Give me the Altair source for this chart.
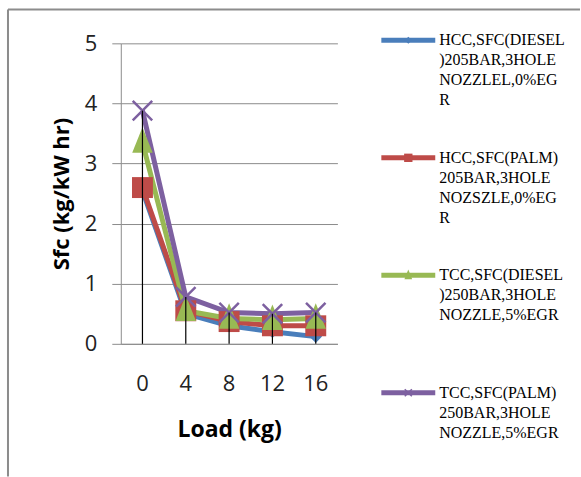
import altair as alt
import pandas as pd

# ---------------- data ----------------
loads = [0, 4, 8, 12, 16]
series = [
    "HCC,SFC(DIESEL)205BAR,3HOLE NOZZLEL,0%EGR",
    "HCC,SFC(PALM)205BAR,3HOLE NOZSZLE,0%EGR",
    "TCC,SFC(DIESEL)250BAR,3HOLE NOZZLE,5%EGR",
    "TCC,SFC(PALM)250BAR,3HOLE NOZZLE,5%EGR",
]
legend_labels = [
    "HCC,SFC(DIESEL\n)205BAR,3HOLE\nNOZZLEL,0%EG\nR",
    "HCC,SFC(PALM)\n205BAR,3HOLE\nNOZSZLE,0%EG\nR",
    "TCC,SFC(DIESEL\n)250BAR,3HOLE\nNOZZLE,5%EGR",
    "TCC,SFC(PALM)\n250BAR,3HOLE\nNOZZLE,5%EGR",
]
hcc_diesel = [2.55, 0.50, 0.30, 0.20, 0.12]
hcc_palm = [2.60, 0.55, 0.37, 0.30, 0.30]
tcc_diesel = [3.35, 0.55, 0.42, 0.40, 0.42]
tcc_palm = [3.88, 0.78, 0.52, 0.50, 0.52]
values = [hcc_diesel, hcc_palm, tcc_diesel, tcc_palm]

colors = ["#4A7EBB", "#BE4B48", "#98B954", "#7D60A0"]

rows = []
for s, vals in zip(series, values):
    for l, v in zip(loads, vals):
        rows.append({"series": s, "load": l, "sfc": v})
df = pd.DataFrame(rows)
leg_df = pd.DataFrame({"series": series, "label": legend_labels})

# ---------------- styles ----------------
FONT = "Open Sans"
GRAY = "#8c8c8c"

x_enc = alt.X(
    "load:O", sort=loads,
    axis=alt.Axis(
        title="Load (kg)", labelAngle=0, ticks=False, tickSize=0, grid=False,
        domainColor=GRAY, labelFont=FONT, labelFontSize=22, labelColor="#222",
        labelPadding=30, titleFont=FONT, titleFontSize=23, titleFontWeight="bold",
        titleColor="black", titlePadding=24,
    ),
)
y_axis = alt.Axis(
    title="Sfc (kg/kW hr)", values=[0, 1, 2, 3, 4, 5], grid=True, gridColor=GRAY,
    gridWidth=1, domainColor=GRAY, tickColor=GRAY, tickSize=9, labelFont=FONT,
    labelFontSize=22, labelColor="#222", labelPadding=15, titleFont=FONT,
    titleFontSize=22, titleFontWeight="bold", titleColor="black", titlePadding=11,
)
y_scale = alt.Scale(domain=[0, 5], nice=False)
color_scale = alt.Scale(domain=series, range=colors)

base = alt.Chart(df)

lines = base.mark_line(strokeWidth=5).encode(
    x=x_enc,
    y=alt.Y("sfc:Q", scale=y_scale, axis=y_axis),
    color=alt.Color("series:N", scale=color_scale, legend=None),
)

marker_specs = [
    ("diamond", 160, True, 1),
    ("square", 440, True, 1),
    ("M0,-1.5L1,1L-1,1Z", 420, True, 1),
    ("M-1,-1L1,1M-1,1L1,-1", 380, False, 2.5),
]
point_layers = []
for s, c, (shp, sz, fil, sw) in zip(series, colors, marker_specs):
    point_layers.append(
        base.transform_filter(alt.datum.series == s)
        .mark_point(shape=shp, size=sz, filled=fil, color=c, opacity=1, strokeWidth=sw)
        .encode(x=x_enc, y=alt.Y("sfc:Q", scale=y_scale, axis=y_axis))
    )

drops = (
    base.transform_aggregate(sfc="max(sfc)", groupby=["load"])
    .mark_rule(color="black", strokeWidth=1.2)
    .encode(x=x_enc, y=alt.Y("sfc:Q", scale=y_scale, axis=y_axis), y2=alt.datum(0))
)

main = alt.layer(lines, *point_layers, drops)

# ---------------- legend ----------------
leg_y = alt.Y("series:N", sort=series, axis=None,
              scale=alt.Scale(type="point", domain=series, range=[-3, 350], padding=0))
leg_base = alt.Chart(leg_df)
leg_lines = leg_base.mark_rule(strokeWidth=5).encode(
    x=alt.value(261), x2=alt.value(315), y=leg_y,
    color=alt.Color("series:N", scale=color_scale, legend=None),
)
leg_marker_specs = [
    ("diamond", 50, True, 1),
    ("square", 70, True, 1),
    ("M0,-1.5L1,1L-1,1Z", 60, True, 1),
    ("M-1,-1L1,1M-1,1L1,-1", 50, False, 1.5),
]
leg_points = []
for s, c, (shp, sz, fil, sw) in zip(series, colors, leg_marker_specs):
    leg_points.append(
        leg_base.transform_filter(alt.datum.series == s)
        .mark_point(shape=shp, size=sz, filled=fil, color=c, opacity=1, strokeWidth=sw)
        .encode(x=alt.value(288), y=leg_y)
    )
leg_text = leg_base.mark_text(
    align="left", baseline="alphabetic", dy=5, font="Liberation Serif",
    fontSize=16, lineHeight=20, lineBreak="\n", color="black",
).encode(x=alt.value(319), y=leg_y, text="label:N")
legend = alt.layer(leg_lines, *leg_points, leg_text)

# ---------------- outer frame ----------------
frame_df = pd.DataFrame({"k": [0]})
frame_left = alt.Chart(frame_df).mark_rule(color=GRAY, strokeWidth=2).encode(
    x=alt.value(-113), y=alt.value(-34), y2=alt.value(434))
frame_top = alt.Chart(frame_df).mark_rule(color=GRAY, strokeWidth=2).encode(
    x=alt.value(-113), x2=alt.value(460), y=alt.value(-34))

chart = (
    alt.layer(main, legend, frame_left, frame_top)
    .resolve_scale(y="independent")
    .properties(width=217, height=301, padding={"left": 7, "top": 8, "right": 0, "bottom": 0})
    .configure_view(strokeWidth=0)
)

chart.save("out.html", embed_options={"renderer": "svg", "actions": False})
